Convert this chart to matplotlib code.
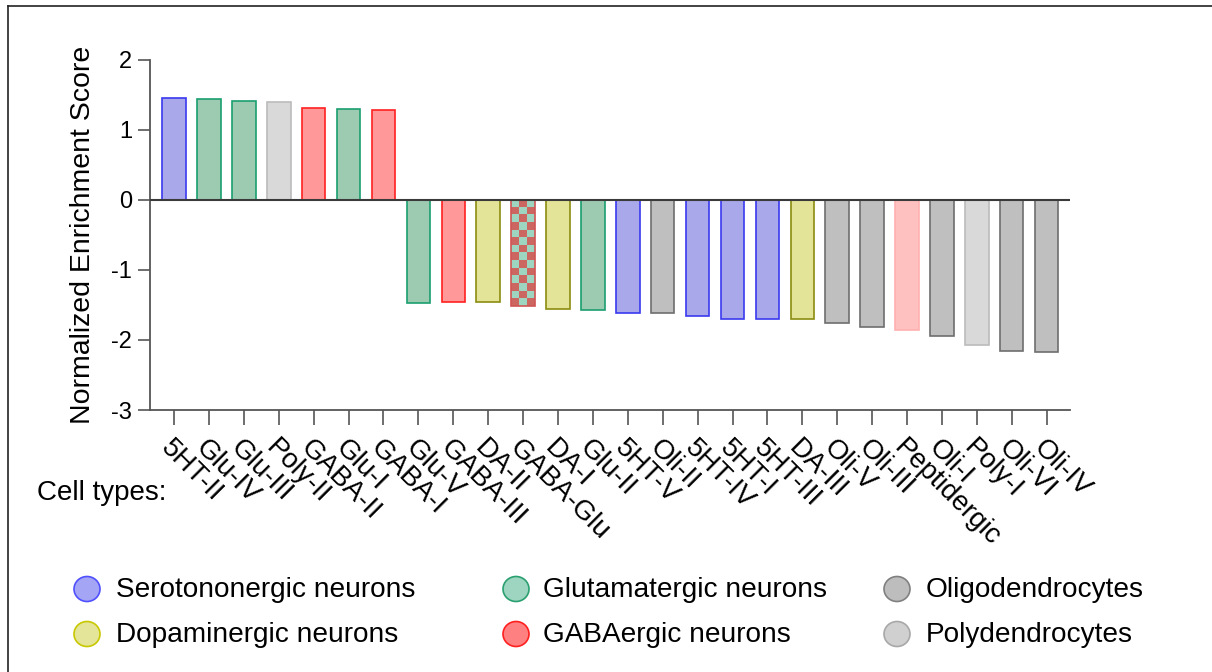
import numpy as np
import matplotlib
matplotlib.use("Agg")
import matplotlib.pyplot as plt
from matplotlib.lines import Line2D
from matplotlib.patches import Ellipse

plt.rcParams['font.family'] = ['Liberation Sans', 'DejaVu Sans']

# Cell types ordered by normalized enrichment score
cell_types = ["5HT-II", "Glu-IV", "Glu-III", "Poly-II", "GABA-II", "Glu-I", "GABA-I",
              "Glu-V", "GABA-III", "DA-II", "GABA-Glu", "DA-I", "Glu-II", "5HT-V",
              "Oli-II", "5HT-IV", "5HT-I", "5HT-III", "DA-III", "Oli-V", "Oli-III",
              "Peptidergic", "Oli-I", "Poly-I", "Oli-VI", "Oli-IV"]
nes = [1.46, 1.44, 1.42, 1.40, 1.31, 1.30, 1.28,
       -1.47, -1.45, -1.46, -1.52, -1.55, -1.57, -1.61,
       -1.62, -1.65, -1.70, -1.70, -1.70, -1.76, -1.81,
       -1.86, -1.94, -2.07, -2.15, -2.17]
groups = ["sero", "glu", "glu", "poly", "gaba", "glu", "gaba",
          "glu", "gaba", "dopa", "mixed", "dopa", "glu", "sero",
          "oli", "sero", "sero", "sero", "dopa", "oli", "oli",
          "pept", "oli", "poly", "oli", "oli"]

# fill / edge colours per group
fills = {"sero": "#A8A8EA", "glu": "#9CCBB1", "poly": "#D9D9D9", "gaba": "#FF9999",
         "dopa": "#E4E499", "oli": "#BFBFBF", "pept": "#FFC0C0", "mixed": "#CC6660"}
edges = {"sero": "#3A3AF0", "glu": "#1A9E6E", "poly": "#BBBBBB", "gaba": "#FF2020",
         "dopa": "#8C8C10", "oli": "#6E6E6E", "pept": "#FFB0B0", "mixed": "#D05555"}
checker_colors = ("#9DD5C0", "#CC6660")

legend_labels = ["Serotononergic neurons", "Glutamatergic neurons", "Oligodendrocytes",
                 "Dopaminergic neurons", "GABAergic neurons", "Polydendrocytes"]
legend_fills = ["#A5A5F5", "#9DD5C0", "#BDBDBD", "#E5E599", "#FF8080", "#D0D0D0"]
legend_edges = ["#5050FF", "#2AA070", "#808080", "#C8C800", "#FF2020", "#A8A8A8"]

W, H = 1212, 672
fig = plt.figure(figsize=(W / 100, H / 100), dpi=100)
ax = fig.add_axes([150 / W, 1 - 410 / H, 920 / W, 350 / H])

x = np.arange(len(cell_types))
bw = 0.675
for xi, v, g in zip(x, nes, groups):
    if g == "mixed":
        nrows, ncols = 14, 3
        pat = (np.add.outer(np.arange(nrows), np.arange(ncols)) % 2)
        rgb = np.array([matplotlib.colors.to_rgb(checker_colors[k]) for k in pat.ravel()])
        img = rgb.reshape(nrows, ncols, 3)
        ax.imshow(img, extent=[xi - bw / 2, xi + bw / 2, v, 0], origin="upper",
                  interpolation="nearest", aspect="auto", zorder=2)
        ax.bar(xi, v, width=bw, facecolor="none", edgecolor=edges[g], linewidth=1.2, zorder=3)
    else:
        ax.bar(xi, v, width=bw, facecolor=fills[g], edgecolor=edges[g], linewidth=1.2, zorder=2)

ax.axhline(0, color="#3A3A3A", linewidth=1.5, zorder=4)

ax.set_xlim(-0.69, 25.67)
ax.set_ylim(-3, 2)
ax.set_yticks([-3, -2, -1, 0, 1, 2])
ax.set_yticklabels(["-3", "-2", "-1", "0", "1", "2"], fontsize=17)
ax.set_xticks(x)
ax.set_xticklabels(cell_types, fontsize=20, rotation=-45, ha="left", va="top",
                   rotation_mode="anchor")
for s in ["top", "right"]:
    ax.spines[s].set_visible(False)
for s in ["left", "bottom"]:
    ax.spines[s].set_color("#555555")
    ax.spines[s].set_linewidth(1.3)
ax.tick_params(axis="y", length=9, width=1.2, color="#555555", pad=4)
ax.tick_params(axis="x", length=11, width=1.2, color="#555555", pad=7)
ax.set_ylabel("Normalized Enrichment Score", fontsize=20.5, labelpad=11)

fig.text(37 / W, 1 - 493 / H, "Cell types:", fontsize=20, ha="left", va="center")

# legend entries laid out in two rows of three
col_marker_x = [87, 516, 897]
col_text_x = [116, 543, 926]
row_y = [589, 634]
for i, (lab, fc, ec) in enumerate(zip(legend_labels, legend_fills, legend_edges)):
    r, c = divmod(i, 3)
    cx, cy = col_marker_x[c] / W, 1 - row_y[r] / H
    fig.add_artist(Ellipse((cx, cy), 26 / W, 25 / H, transform=fig.transFigure,
                           facecolor=fc, edgecolor=ec, linewidth=1.2))
    fig.text(col_text_x[c] / W, 1 - (row_y[r] + 1) / H, lab, fontsize=20.2,
             ha="left", va="center")

# frame edges along the top and left
fig.add_artist(Line2D([8 / W, 8 / W], [0, 1 - 6 / H], transform=fig.transFigure,
                      color="#222222", linewidth=1.2))
fig.add_artist(Line2D([8 / W, 1], [1 - 6 / H, 1 - 6 / H], transform=fig.transFigure,
                      color="#222222", linewidth=1.2))

fig.savefig("out.png", dpi=100, facecolor="white")
